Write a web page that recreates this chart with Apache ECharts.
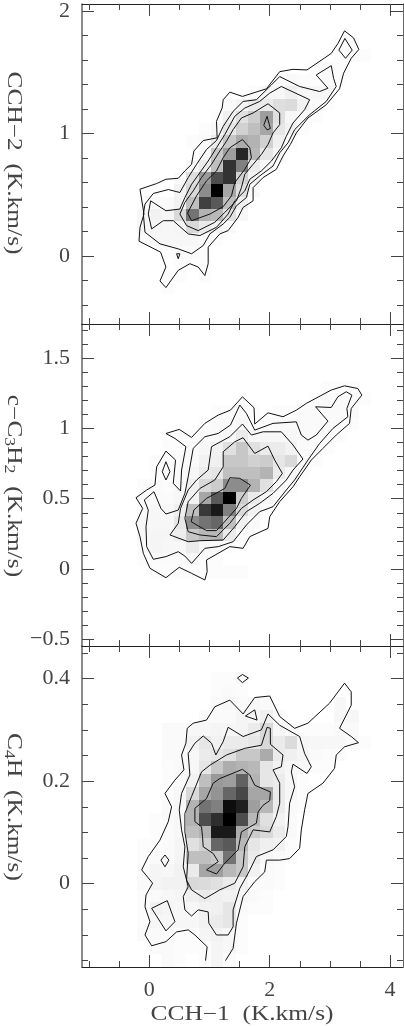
<!DOCTYPE html>
<html>
<head>
<meta charset="utf-8">
<title>CCH correlations</title>
<script src="https://cdn.jsdelivr.net/npm/echarts@6/dist/echarts.min.js"></script>
<style>
html, body { margin: 0; padding: 0; background: #fff; }
#chart { width: 404px; height: 1026px; }
</style>
</head>
<body>
<div id="chart"></div>
<script>
// tick values
var xMajor = [0, 2, 4]
var xMinor = [-1, -0.5, 0.5, 1, 1.5, 2.5, 3, 3.5]
var cch2Major = [0, 1, 2]
var cch2Minor = [-0.4, -0.2, 0.2, 0.4, 0.6, 0.8, 1.2, 1.4, 1.6, 1.8]
var c3h2Major = [-0.5, 0, 0.5, 1, 1.5]
var c3h2Minor = [-0.4, -0.3, -0.2, -0.1, 0.1, 0.2, 0.3, 0.4, 0.6, 0.7, 0.8, 0.9, 1.1, 1.2, 1.3, 1.4, 1.6, 1.7]
var c4hMajor = [0, 0.2, 0.4]
var c4hMinor = [-0.15, -0.1, -0.05, 0.05, 0.1, 0.15, 0.25, 0.3, 0.35, 0.45]

// pixel columns of the grey maps, K.km/s
var cellX = [-0.098, 0.106, 0.311, 0.515, 0.719, 0.923, 1.128, 1.332, 1.536, 1.741, 1.945, 2.149, 2.353, 2.558, 2.762, 2.966, 3.170, 3.375, 3.579]

// grey maps: darkness 0-100, one row per cell row
var cch2RowY = [1.736, 1.636, 1.536, 1.436, 1.336, 1.236, 1.136, 1.036, 0.936, 0.836, 0.736, 0.636, 0.536, 0.436, 0.336, 0.236, 0.136, 0.036, -0.064, -0.164, -0.264]
var cch2Rows = [
    [0, 0, 0, 0, 0, 0, 0, 0, 0, 0, 0, 0, 0, 0, 0, 0, 1, 2, 0],
    [0, 0, 0, 0, 0, 0, 0, 0, 0, 0, 0, 0, 0, 0, 0, 0, 1, 2, 1],
    [0, 0, 0, 0, 0, 0, 0, 0, 0, 0, 0, 0, 0, 0, 1, 2, 1, 0, 0],
    [0, 0, 0, 0, 0, 0, 0, 0, 0, 0, 0, 2, 2, 1, 1, 2, 1, 0, 0],
    [0, 0, 0, 0, 0, 0, 0, 0, 0, 1, 3, 3, 6, 3, 3, 3, 0, 0, 0],
    [0, 0, 0, 0, 0, 0, 0, 2, 4, 8, 8, 13, 14, 5, 2, 1, 0, 0, 0],
    [0, 0, 0, 0, 0, 0, 1, 6, 12, 20, 38, 12, 3, 2, 1, 0, 0, 0, 0],
    [0, 0, 0, 0, 0, 1, 3, 10, 18, 25, 35, 10, 5, 1, 0, 0, 0, 0, 0],
    [0, 0, 0, 0, 1, 2, 8, 22, 33, 30, 18, 6, 1, 0, 0, 0, 0, 0, 0],
    [0, 0, 0, 0, 0, 3, 22, 38, 85, 28, 10, 3, 0, 0, 0, 0, 0, 0, 0],
    [0, 0, 0, 0, 3, 8, 25, 80, 50, 8, 3, 0, 0, 0, 0, 0, 0, 0, 0],
    [0, 0, 0, 2, 12, 40, 70, 80, 18, 5, 0, 0, 0, 0, 0, 0, 0, 0, 0],
    [0, 0, 0, 5, 15, 45, 100, 35, 12, 2, 0, 0, 0, 0, 0, 0, 0, 0, 0],
    [0, 2, 2, 5, 25, 75, 65, 25, 6, 0, 0, 0, 0, 0, 0, 0, 0, 0, 0],
    [3, 5, 4, 15, 55, 30, 28, 12, 3, 0, 0, 0, 0, 0, 0, 0, 0, 0, 0],
    [3, 4, 3, 4, 15, 8, 5, 2, 0, 0, 0, 0, 0, 0, 0, 0, 0, 0, 0],
    [2, 3, 3, 3, 3, 2, 1, 0, 0, 0, 0, 0, 0, 0, 0, 0, 0, 0, 0],
    [0, 0, 1, 2, 2, 1, 0, 0, 0, 0, 0, 0, 0, 0, 0, 0, 0, 0, 0],
    [0, 0, 0, 1, 1, 1, 0, 0, 0, 0, 0, 0, 0, 0, 0, 0, 0, 0, 0],
    [0, 0, 1, 1, 0, 1, 0, 0, 0, 0, 0, 0, 0, 0, 0, 0, 0, 0, 0],
    [0, 0, 1, 0, 0, 0, 0, 0, 0, 0, 0, 0, 0, 0, 0, 0, 0, 0, 0]
]
var c3h2RowY = [1.296, 1.208, 1.120, 1.032, 0.945, 0.857, 0.769, 0.682, 0.594, 0.506, 0.418, 0.331, 0.243, 0.156, 0.068, -0.019]
var c3h2Rows = [
    [0, 0, 0, 0, 0, 0, 0, 0, 0, 0, 0, 0, 0, 0, 0, 1, 1, 1, 0],
    [0, 0, 0, 0, 0, 0, 0, 0, 0, 0, 0, 0, 0, 0, 1, 2, 2, 2, 1],
    [0, 0, 0, 0, 0, 0, 1, 1, 2, 1, 0, 1, 1, 2, 2, 2, 2, 2, 0],
    [0, 0, 0, 0, 0, 1, 2, 2, 3, 1, 1, 2, 2, 2, 2, 2, 2, 1, 0],
    [0, 0, 1, 1, 1, 2, 2, 3, 8, 3, 3, 3, 3, 2, 2, 2, 1, 0, 0],
    [0, 0, 1, 1, 2, 3, 5, 12, 22, 12, 8, 8, 5, 2, 2, 1, 0, 0, 0],
    [0, 1, 2, 2, 2, 5, 6, 22, 22, 18, 20, 10, 15, 2, 1, 0, 0, 0, 0],
    [0, 1, 2, 2, 3, 8, 10, 25, 25, 25, 30, 8, 3, 1, 0, 0, 0, 0, 0],
    [1, 2, 1, 2, 6, 15, 20, 45, 45, 30, 12, 3, 1, 0, 0, 0, 0, 0, 0],
    [2, 2, 2, 3, 5, 35, 65, 100, 20, 8, 3, 1, 0, 0, 0, 0, 0, 0, 0],
    [2, 3, 3, 6, 25, 78, 90, 50, 15, 5, 1, 0, 0, 0, 0, 0, 0, 0, 0],
    [3, 3, 3, 10, 45, 55, 60, 25, 6, 2, 0, 0, 0, 0, 0, 0, 0, 0, 0],
    [3, 4, 4, 7, 22, 28, 28, 8, 2, 1, 0, 0, 0, 0, 0, 0, 0, 0, 0],
    [2, 4, 3, 3, 8, 3, 2, 1, 0, 0, 0, 0, 0, 0, 0, 0, 0, 0, 0],
    [1, 2, 2, 2, 3, 1, 1, 0, 0, 0, 0, 0, 0, 0, 0, 0, 0, 0, 0],
    [0, 1, 1, 1, 1, 1, 1, 1, 1, 0, 0, 0, 0, 0, 0, 0, 0, 0, 0]
]
var c4hRowY = [0.401, 0.376, 0.351, 0.326, 0.301, 0.276, 0.251, 0.226, 0.201, 0.176, 0.151, 0.126, 0.101, 0.076, 0.051, 0.026, 0.001, -0.024, -0.049, -0.074, -0.099, -0.124, -0.149]
var c4hRows = [
    [0, 0, 0, 0, 0, 0, 1, 1, 3, 0, 0, 0, 0, 0, 0, 0, 0, 0, 0],
    [0, 0, 0, 0, 0, 0, 1, 2, 1, 0, 0, 0, 0, 0, 0, 0, 0, 0, 0],
    [0, 0, 0, 0, 0, 0, 2, 3, 2, 3, 2, 0, 0, 0, 0, 0, 3, 0, 0],
    [0, 0, 0, 0, 0, 2, 2, 2, 4, 3, 6, 2, 0, 0, 0, 0, 3, 3, 0],
    [0, 0, 2, 2, 3, 3, 4, 3, 4, 8, 15, 3, 2, 1, 1, 1, 2, 2, 0],
    [0, 0, 2, 2, 5, 10, 5, 8, 8, 10, 15, 8, 14, 4, 3, 3, 3, 2, 1],
    [0, 0, 2, 2, 3, 8, 10, 12, 22, 22, 33, 8, 6, 4, 2, 1, 1, 0, 0],
    [0, 0, 1, 2, 3, 10, 22, 32, 30, 28, 10, 5, 3, 3, 1, 1, 0, 0, 0],
    [0, 0, 1, 2, 5, 25, 40, 38, 62, 30, 10, 8, 3, 1, 0, 0, 0, 0, 0],
    [0, 0, 1, 3, 15, 35, 42, 60, 72, 35, 35, 8, 3, 1, 0, 0, 0, 0, 0],
    [0, 0, 2, 3, 30, 55, 50, 95, 88, 38, 28, 8, 2, 1, 0, 0, 0, 0, 0],
    [0, 1, 2, 3, 30, 70, 82, 100, 70, 28, 12, 5, 2, 0, 0, 0, 0, 0, 0],
    [0, 1, 2, 3, 25, 30, 90, 90, 33, 20, 15, 8, 2, 0, 0, 0, 0, 0, 0],
    [1, 1, 2, 4, 12, 18, 60, 65, 28, 10, 6, 5, 1, 0, 0, 0, 0, 0, 0],
    [1, 2, 2, 4, 25, 25, 22, 55, 22, 8, 3, 2, 1, 0, 0, 0, 0, 0, 0],
    [2, 4, 3, 5, 8, 35, 38, 28, 22, 5, 2, 1, 0, 0, 0, 0, 0, 0, 0],
    [2, 4, 5, 5, 15, 14, 12, 8, 5, 2, 2, 1, 0, 0, 0, 0, 0, 0, 0],
    [1, 2, 3, 4, 6, 8, 6, 5, 3, 2, 1, 0, 0, 0, 0, 0, 0, 0, 0],
    [1, 5, 4, 3, 3, 5, 6, 10, 2, 1, 1, 0, 0, 0, 0, 0, 0, 0, 0],
    [1, 3, 3, 3, 3, 5, 8, 10, 1, 0, 0, 0, 0, 0, 0, 0, 0, 0, 0],
    [2, 2, 2, 1, 1, 4, 5, 3, 1, 0, 0, 0, 0, 0, 0, 0, 0, 0, 0],
    [0, 2, 2, 1, 1, 1, 4, 3, 1, 0, 0, 0, 0, 0, 0, 0, 0, 0, 0],
    [0, 0, 2, 1, 0, 1, 4, 1, 0, 0, 0, 0, 0, 0, 0, 0, 0, 0, 0]
]

// contours, [CCH-1, y] in K.km/s
var cch2Outer = [[-0.155, 0.546], [0.122, 0.592], [0.276, 0.627], [0.481, 0.635], [0.591, 0.695], [0.702, 0.749], [0.74, 0.857], [0.895, 0.943], [1.127, 0.965], [1.116, 1.1], [1.21, 1.208], [1.227, 1.276], [1.337, 1.338], [1.547, 1.303], [1.945, 1.365], [2.166, 1.505], [2.387, 1.524], [2.619, 1.519], [3.022, 1.654], [3.133, 1.735], [3.243, 1.838], [3.392, 1.781], [3.481, 1.686], [3.354, 1.614], [3.227, 1.492], [3.16, 1.365], [2.939, 1.235], [2.635, 1.127], [2.442, 1.005], [2.343, 0.911], [2.221, 0.816], [2.11, 0.708], [1.89, 0.641], [1.724, 0.559], [1.724, 0.451], [1.558, 0.397], [1.475, 0.316], [1.309, 0.208], [1.171, 0.181], [0.978, 0.073], [0.978, -0.062], [0.923, -0.159], [0.812, -0.089], [0.674, -0.062], [0.481, -0.116], [0.276, -0.257], [0.177, -0.203], [0.276, -0.089], [0.188, 0.032], [-0.171, 0.122], [-0.155, 0.235], [-0.088, 0.343]]
var cch2Second = [[-0.072, 0.424], [0.066, 0.511], [0.315, 0.543], [0.508, 0.519], [0.646, 0.641], [0.785, 0.749], [0.95, 0.87], [1.116, 0.943], [1.227, 1.059], [1.392, 1.181], [1.558, 1.262], [1.779, 1.276], [2.028, 1.397], [2.166, 1.465], [2.497, 1.384], [2.829, 1.343], [2.967, 1.37], [2.773, 1.478], [3.022, 1.554], [3.061, 1.451], [3.105, 1.384], [2.939, 1.262], [2.663, 1.154], [2.414, 1.032], [2.304, 0.924], [2.166, 0.843], [2.055, 0.735], [1.834, 0.654], [1.669, 0.586], [1.613, 0.478], [1.448, 0.411], [1.337, 0.316], [1.227, 0.262], [1.006, 0.181], [0.895, 0.086], [0.702, 0.019], [0.481, 0.059], [0.177, 0.1], [-0.072, 0.195], [-0.099, 0.343]]
var cch2Third = [[0.022, 0.451], [0.276, 0.37], [0.508, 0.384], [0.591, 0.478], [0.702, 0.586], [0.84, 0.681], [0.978, 0.776], [1.116, 0.884], [1.254, 0.992], [1.42, 1.141], [1.586, 1.208], [1.834, 1.262], [2.0, 1.33], [2.193, 1.384], [2.663, 1.276], [2.58, 1.195], [2.387, 1.086], [2.276, 0.978], [2.193, 0.884], [2.028, 0.776], [1.862, 0.695], [1.669, 0.627], [1.586, 0.532], [1.42, 0.451], [1.309, 0.343], [1.116, 0.235], [0.84, 0.168], [0.646, 0.181], [0.398, 0.289], [0.232, 0.289], [0.039, 0.222], [-0.017, 0.343]]
var cch2Fourth = [[0.508, 0.343], [0.591, 0.438], [0.729, 0.532], [0.867, 0.641], [1.033, 0.749], [1.171, 0.857], [1.282, 0.938], [1.392, 1.032], [1.53, 1.127], [1.724, 1.168], [1.972, 1.243], [2.166, 1.168], [2.166, 1.073], [2.055, 1.005], [1.972, 0.911], [1.862, 0.83], [1.724, 0.749], [1.586, 0.668], [1.53, 0.559], [1.448, 0.451], [1.254, 0.357], [1.088, 0.276], [0.812, 0.208], [0.619, 0.249]]
var cch2Fifth = [[0.635, 0.351], [0.785, 0.492], [0.95, 0.614], [1.116, 0.695], [1.227, 0.803], [1.337, 0.884], [1.547, 0.951], [1.669, 0.884], [1.696, 0.803], [1.586, 0.708], [1.42, 0.6], [1.365, 0.492], [1.227, 0.403], [1.006, 0.343], [0.702, 0.289]]
var cch2Drop = [[1.956, 1.141], [2.011, 1.041], [1.956, 1.03], [1.901, 1.068]]
var cch2Diamond = [[3.249, 1.776], [3.37, 1.681], [3.26, 1.614], [3.149, 1.681]]
var cch2Speck = [[0.453, 0.019], [0.508, 0.019], [0.481, -0.022]]

var c3h2Outer = [[0.276, 0.964], [0.497, 0.993], [0.702, 0.936], [0.923, 1.036], [1.144, 1.095], [1.348, 1.13], [1.547, 1.225], [1.74, 1.147], [1.751, 1.031], [1.972, 1.111], [2.221, 1.083], [2.442, 1.13], [2.608, 1.178], [3.022, 1.273], [3.243, 1.303], [3.464, 1.284], [3.53, 1.237], [3.354, 1.142], [3.326, 1.036], [3.105, 0.953], [2.884, 0.858], [2.691, 0.775], [2.497, 0.656], [2.387, 0.585], [2.166, 0.479], [2.0, 0.372], [1.972, 0.289], [1.669, 0.23], [1.558, 0.147], [1.337, 0.159], [0.95, 0.064], [0.961, -0.019], [0.923, -0.078], [0.702, -0.031], [0.497, 0.012], [0.276, -0.062], [0.011, 0.005], [-0.099, 0.111], [-0.155, 0.23], [-0.221, 0.325], [-0.11, 0.431], [-0.221, 0.507], [-0.044, 0.562], [0.094, 0.597], [0.122, 0.727], [0.276, 0.839], [0.436, 0.775], [0.398, 0.609], [0.519, 0.555], [0.536, 0.704], [0.608, 0.87], [0.425, 0.929]]
var c3h2Second = [[-0.083, 0.491], [0.077, 0.55], [0.193, 0.431], [0.276, 0.391], [0.481, 0.419], [0.591, 0.538], [0.646, 0.656], [0.729, 0.858], [0.923, 0.941], [1.144, 0.964], [1.348, 1.024], [1.503, 1.166], [1.613, 1.107], [1.751, 0.988], [2.055, 1.036], [2.442, 1.047], [2.525, 0.953], [2.635, 0.917], [2.773, 0.953], [2.967, 1.052], [2.762, 1.154], [3.022, 1.149], [3.133, 1.225], [3.271, 1.261], [3.365, 1.237], [3.282, 1.142], [3.298, 1.083], [3.05, 1.0], [2.829, 0.893], [2.635, 0.775], [2.414, 0.633], [2.276, 0.562], [2.055, 0.443], [1.834, 0.408], [1.613, 0.313], [1.392, 0.194], [1.144, 0.159], [0.923, 0.147], [0.702, 0.04], [0.591, 0.092], [0.481, 0.123], [0.276, 0.088], [0.066, 0.069], [-0.044, 0.159], [-0.055, 0.301], [-0.017, 0.419]]
var c3h2Third = [[0.343, 0.242], [0.481, 0.325], [0.519, 0.431], [0.646, 0.562], [0.785, 0.633], [0.978, 0.704], [1.033, 0.87], [1.337, 0.941], [1.547, 1.031], [1.696, 0.953], [1.89, 0.976], [2.193, 0.976], [2.387, 0.882], [2.552, 0.782], [2.387, 0.704], [2.276, 0.633], [2.055, 0.538], [1.834, 0.467], [1.613, 0.408], [1.42, 0.301], [1.227, 0.206], [0.84, 0.201], [0.646, 0.194]]
var c3h2Fourth = [[0.591, 0.36], [0.646, 0.479], [0.84, 0.573], [1.088, 0.633], [1.227, 0.727], [1.227, 0.834], [1.42, 0.905], [1.558, 0.934], [1.751, 0.822], [1.972, 0.874], [2.083, 0.775], [2.21, 0.68], [2.11, 0.621], [1.945, 0.55], [1.724, 0.491], [1.53, 0.431], [1.337, 0.325], [1.116, 0.23], [0.84, 0.242], [0.646, 0.265]]
var c3h2Fifth = [[0.696, 0.336], [0.74, 0.419], [0.95, 0.502], [1.254, 0.573], [1.337, 0.649], [1.503, 0.645], [1.68, 0.597], [1.53, 0.502], [1.448, 0.431], [1.227, 0.325], [1.116, 0.273], [0.95, 0.273]]
var c3h2Diamond = [[0.276, 0.763], [0.343, 0.692], [0.276, 0.633], [0.215, 0.692]]

// this one runs off the bottom of the frame, so it stays open
var c4hOuter = [[0.934, -0.15], [0.961, -0.123], [0.757, -0.1], [0.646, -0.09], [0.453, -0.094], [0.276, -0.113], [0.039, -0.121], [-0.072, -0.1], [0.011, -0.074], [-0.072, -0.045], [-0.055, -0.022], [0.055, 0.001], [-0.127, 0.027], [-0.017, 0.053], [0.177, 0.085], [0.315, 0.121], [0.37, 0.15], [0.26, 0.176], [0.425, 0.202], [0.575, 0.222], [0.536, 0.251], [0.608, 0.274], [0.63, 0.303], [0.729, 0.313], [0.95, 0.319], [1.088, 0.345], [1.337, 0.358], [1.558, 0.331], [1.751, 0.363], [2.0, 0.366], [2.166, 0.326], [2.414, 0.303], [2.635, 0.313], [2.994, 0.352], [3.243, 0.391], [3.354, 0.374], [3.354, 0.348], [3.16, 0.303], [3.354, 0.287], [3.475, 0.275], [3.243, 0.267], [3.105, 0.251], [3.077, 0.225], [2.884, 0.196], [2.635, 0.176], [2.58, 0.144], [2.525, 0.105], [2.497, 0.069], [2.331, 0.049], [2.166, 0.046], [1.945, 0.046], [1.917, 0.023], [1.751, 0.004], [1.558, -0.025], [1.448, -0.077], [1.392, -0.126], [1.265, -0.15]]
var c4hSecond = [[0.895, 0.288], [1.033, 0.274], [1.105, 0.251], [1.227, 0.277], [1.309, 0.305], [1.558, 0.287], [1.862, 0.3], [1.972, 0.331], [2.166, 0.309], [2.497, 0.287], [2.58, 0.254], [2.691, 0.228], [2.619, 0.215], [2.387, 0.233], [2.359, 0.218], [2.414, 0.189], [2.331, 0.157], [2.304, 0.111], [2.276, 0.092], [2.055, 0.066], [1.779, 0.053], [1.641, 0.02], [1.503, -0.009], [1.392, -0.051], [1.392, -0.084], [1.309, -0.1], [1.116, -0.1], [0.989, -0.077], [0.978, -0.055], [0.812, -0.051], [0.702, -0.063], [0.591, -0.051], [0.564, -0.025], [0.646, -0.006], [0.564, 0.033], [0.591, 0.072], [0.536, 0.105], [0.497, 0.144], [0.536, 0.176], [0.674, 0.212], [0.646, 0.254], [0.757, 0.274]]
var c4hThird = [[0.591, 0.137], [0.702, 0.17], [0.867, 0.218], [1.006, 0.231], [1.282, 0.251], [1.586, 0.264], [1.862, 0.27], [1.956, 0.305], [2.011, 0.303], [2.011, 0.272], [2.221, 0.251], [2.193, 0.228], [2.055, 0.222], [2.166, 0.196], [2.166, 0.157], [2.11, 0.131], [2.0, 0.101], [1.724, 0.105], [1.586, 0.072], [1.558, 0.033], [1.42, 0.001], [1.171, -0.012], [0.923, -0.029], [0.702, -0.012], [0.619, 0.007], [0.646, 0.059], [0.591, 0.101]]
var c4hFourth = [[0.757, 0.147], [0.95, 0.166], [1.061, 0.196], [1.171, 0.205], [1.547, 0.223], [1.669, 0.212], [1.751, 0.192], [2.011, 0.179], [2.0, 0.162], [1.89, 0.153], [1.807, 0.14], [1.779, 0.118], [1.53, 0.101], [1.475, 0.066], [1.254, 0.04], [1.116, 0.019], [0.95, 0.027], [1.144, 0.043], [1.061, 0.059], [0.895, 0.072], [0.884, 0.092], [0.867, 0.111], [0.757, 0.121]]
var c4hIsland1 = [[1.547, 0.408], [1.646, 0.401], [1.547, 0.392], [1.464, 0.401]]
var c4hIsland2 = [[1.597, 0.327], [1.751, 0.339], [1.79, 0.319]]
var c4hIsland3 = [[0.26, 0.056], [0.326, 0.046], [0.26, 0.033], [0.193, 0.046]]
var c4hIsland4 = [[0.039, -0.048], [0.298, -0.033], [0.425, -0.074], [0.276, -0.092]]

var cellW = 0.2043
var lineColor = '#111'
var textColor = '#444'

var panels = [
    {
        top: 2, height: 322, yMin: -0.554, yMax: 2.058, major: cch2Major, minor: cch2Minor,
        rowY: cch2RowY, rows: cch2Rows, cellH: 0.1,
        closed: [cch2Outer, cch2Second, cch2Third, cch2Fourth, cch2Fifth, cch2Drop, cch2Diamond, cch2Speck],
        open: []
    },
    {
        top: 324, height: 322, yMin: -0.548, yMax: 1.743, major: c3h2Major, minor: c3h2Minor,
        rowY: c3h2RowY, rows: c3h2Rows, cellH: 0.0877,
        closed: [c3h2Outer, c3h2Second, c3h2Third, c3h2Fourth, c3h2Fifth, c3h2Diamond],
        open: []
    },
    {
        top: 646, height: 321, yMin: -0.1624, yMax: 0.4635, major: c4hMajor, minor: c4hMinor,
        rowY: c4hRowY, rows: c4hRows, cellH: 0.025,
        closed: [c4hSecond, c4hThird, c4hFourth, c4hIsland1, c4hIsland2, c4hIsland3, c4hIsland4],
        open: [c4hOuter]
    }
]

function minusSign(v) {
    return String(v).replace('-', '\u2212')
}

var option = {
    animation: false,
    backgroundColor: '#fff',
    grid: [], xAxis: [], yAxis: [], series: [],
    graphic: [
        axisTitle(242, 1015, 0, 'CCH\u22121  (K.km/s)'),
        axisTitle(13, 163, -Math.PI / 2, 'CCH\u22122  (K.km/s)'),
        axisTitle(13, 486, -Math.PI / 2, '{a|c\u2212C}{sub|3}{a|H}{sub|2}{a|  (K.km/s)}'),
        axisTitle(13, 807, -Math.PI / 2, '{a|C}{sub|4}{a|H  (K.km/s)}')
    ]
}

function axisTitle(x, y, rotation, text) {
    return {
        type: 'text', x: x, y: y, rotation: rotation, scaleX: 1.27,
        style: {
            text: text, fill: textColor, align: 'center', verticalAlign: 'middle',
            font: '20px "Liberation Serif"',
            rich: {
                a: {font: '20px "Liberation Serif"', fill: textColor},
                sub: {font: '14px "Liberation Serif"', fill: textColor, verticalAlign: 'bottom', padding: [9, 0, 0, 0]}
            }
        }
    }
}

function addAxis(list, gridIndex, position, min, max, ticks, len, frame, withLabels) {
    list.push({
        type: 'value', gridIndex: gridIndex, position: position, min: min, max: max, scale: true,
        splitLine: {show: false},
        axisLine: {show: !!frame, onZero: false, lineStyle: frame || {}},
        axisTick: {show: true, inside: true, length: len, customValues: ticks, lineStyle: {color: '#444', width: 1}},
        axisLabel: {
            show: withLabels, customValues: ticks, margin: 12, hideOverlap: false,
            showMinLabel: true, showMaxLabel: true,
            fontFamily: 'Liberation Serif', fontSize: 22, color: textColor, formatter: minusSign
        }
    })
    return list.length - 1
}

var xFrame = {color: '#222', width: 1}
var leftFrame = {color: '#666', width: 1.5}
var rightFrame = {color: '#666', width: 1}

panels.forEach(function (p, i) {
    option.grid.push({left: 82, width: 321, top: p.top, height: p.height})

    var xIndex = addAxis(option.xAxis, i, 'bottom', -1.118, 4.214, xMajor, 12, xFrame, i == 2)
    addAxis(option.xAxis, i, 'bottom', -1.118, 4.214, xMinor, 6, null, false)
    addAxis(option.xAxis, i, 'top', -1.118, 4.214, xMajor, 12, xFrame, false)
    addAxis(option.xAxis, i, 'top', -1.118, 4.214, xMinor, 6, null, false)
    var yIndex = addAxis(option.yAxis, i, 'left', p.yMin, p.yMax, p.major, 12, leftFrame, true)
    addAxis(option.yAxis, i, 'left', p.yMin, p.yMax, p.minor, 6, null, false)
    addAxis(option.yAxis, i, 'right', p.yMin, p.yMax, p.major, 12, rightFrame, false)
    addAxis(option.yAxis, i, 'right', p.yMin, p.yMax, p.minor, 6, null, false)

    var cells = []
    p.rows.forEach(function (row, r) {
        row.forEach(function (v, c) {
            if (v > 0) cells.push([cellX[c], p.rowY[r], v])
        })
    })
    option.series.push({
        type: 'custom', xAxisIndex: xIndex, yAxisIndex: yIndex, clip: true, z: 1,
        data: cells,
        encode: {x: 0, y: 1},
        renderItem: function (params, api) {
            var a = api.coord([api.value(0) - cellW / 2, api.value(1) + p.cellH / 2])
            var b = api.coord([api.value(0) + cellW / 2, api.value(1) - p.cellH / 2])
            var left = Math.round(a[0]), top = Math.round(a[1])
            var g = Math.round(255 * (1 - api.value(2) / 100))
            return {
                type: 'rect',
                shape: {x: left, y: top, width: Math.round(b[0]) - left, height: Math.round(b[1]) - top},
                style: {fill: 'rgb(' + g + ',' + g + ',' + g + ')'}
            }
        }
    })

    p.closed.forEach(function (loop) {
        option.series.push(contourSeries(loop.concat([loop[0]]), xIndex, yIndex))
    })
    p.open.forEach(function (line) {
        option.series.push(contourSeries(line, xIndex, yIndex))
    })
})

function contourSeries(points, xIndex, yIndex) {
    return {
        type: 'line', xAxisIndex: xIndex, yAxisIndex: yIndex, z: 3,
        data: points, showSymbol: false, symbol: 'none', silent: true, clip: true,
        lineStyle: {color: lineColor, width: 1, join: 'miter'}
    }
}

var chart = echarts.init(document.getElementById('chart'), null, {renderer: 'canvas'})
chart.setOption(option)
</script>
</body>
</html>
